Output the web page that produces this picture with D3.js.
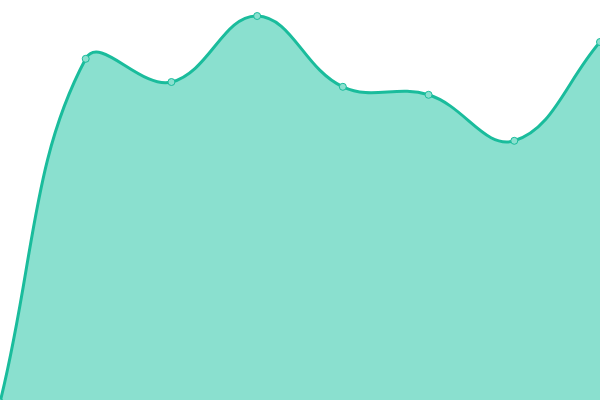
<!DOCTYPE html>
<html>
<head>
<meta charset="utf-8">
<script src="https://cdn.jsdelivr.net/npm/d3@7"></script>
<style>
	html, body { margin: 0; padding: 0; background: #fff; }
	svg { display: block; }
</style>
</head>
<body>
<div id="chart"></div>
<script>
// data
var labels = ["1", "2", "3", "4", "5", "6", "7", "8"];
var values = [-0.6, 85.3, 79.5, 96, 78.3, 76.3, 64.8, 89.5];

var width = 600,
	height = 400;
var tension = 0.4;

var svg = d3.select("#chart")
	.append("svg")
	.attr("width", width)
	.attr("height", height);

// set the ranges
var x = d3.scalePoint().domain(labels).range([0, width]);
var y = d3.scaleLinear().domain([0, 100]).range([height, 0]);

var data = labels.map(function(d, i) { return {label: d, value: values[i]}; });

// spline weighted by distance between points, control points kept inside the chart
function SplineCurve(context) { this._context = context; }
SplineCurve.prototype = {
	areaStart: function() { this._line = 0; },
	areaEnd: function() { this._line = NaN; },
	lineStart: function() { this._x = []; this._y = []; },
	lineEnd: function() {
		var px = this._x, py = this._y, n = px.length, c = this._context;
		if (n) {
			this._line ? c.lineTo(px[0], py[0]) : c.moveTo(px[0], py[0]);
			if (n === 2) c.lineTo(px[1], py[1]);
			else if (n > 2) {
				var cp = [];
				for (var i = 0; i < n; i++) {
					var a = i > 0 ? i - 1 : i, b = i < n - 1 ? i + 1 : i;
					var d01 = Math.hypot(px[i] - px[a], py[i] - py[a]),
						d12 = Math.hypot(px[b] - px[i], py[b] - py[i]);
					var s01 = d01 / (d01 + d12) || 0, s12 = d12 / (d01 + d12) || 0;
					var fa = tension * s01, fb = tension * s12;
					var dx = px[b] - px[a], dy = py[b] - py[a];
					cp.push({
						px: clamp(px[i] - fa * dx, 0, width), py: clamp(py[i] - fa * dy, 0, height),
						nx: clamp(px[i] + fb * dx, 0, width), ny: clamp(py[i] + fb * dy, 0, height)
					});
				}
				for (var j = 1; j < n; j++) {
					c.bezierCurveTo(cp[j - 1].nx, cp[j - 1].ny, cp[j].px, cp[j].py, px[j], py[j]);
				}
			}
		}
		if (this._line || (this._line !== 0 && n === 1)) c.closePath();
		this._line = 1 - this._line;
		this._x = this._y = null;
	},
	point: function(x, y) { this._x.push(+x); this._y.push(+y); }
};
function clamp(v, lo, hi) { return Math.max(lo, Math.min(hi, v)); }
function curveSpline(context) { return new SplineCurve(context); }

// area
var area = d3.area()
	.x(function(d) { return x(d.label); })
	.y0(height)
	.y1(function(d) { return y(d.value); })
	.curve(curveSpline);

svg.append("path")
	.datum(data)
	.attr("d", area)
	.attr("fill", "#8ae0cf");

// line
var line = d3.line()
	.x(function(d) { return x(d.label); })
	.y(function(d) { return y(d.value); })
	.curve(curveSpline);

svg.append("path")
	.datum(data)
	.attr("d", line)
	.attr("fill", "none")
	.attr("stroke", "#1abc9c")
	.attr("stroke-width", 3);

// points
svg.append("g")
	.selectAll("circle")
	.data(data)
	.enter().append("circle")
	.attr("cx", function(d) { return x(d.label); })
	.attr("cy", function(d) { return y(d.value); })
	.attr("r", 3.5)
	.attr("fill", "#8ae0cf")
	.attr("stroke", "#1abc9c")
	.attr("stroke-width", 1);
</script>
</body>
</html>
